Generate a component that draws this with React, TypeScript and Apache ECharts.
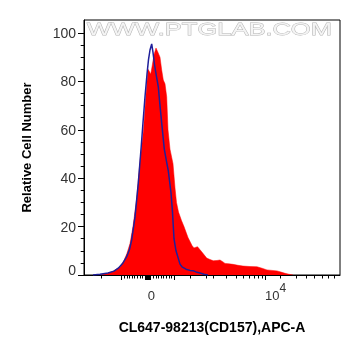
import React, { useEffect, useRef } from "react";
import * as echarts from "echarts";

// Display channel scale (logicle-like), 0..256 across the plot
const xRange = [0, 256];
const yRange = [0, 105.4];

// Stained sample (red, filled)
const redChannels = [16, 22, 29, 36, 40, 43, 46, 49, 52.5, 56, 59.5, 61.5, 63, 64, 65.5, 66.7, 68, 70, 72, 74, 76, 77.7, 79.3, 81, 82.7, 84, 86, 89, 91, 92.5, 94.5, 97.5, 100, 104, 108, 110, 113.5, 117.7, 122.7, 126, 129.3, 133, 136, 139, 141, 145, 149, 154, 159, 166, 173, 178, 183, 188, 193, 197, 201, 205, 209];
const redCounts = [0, 0.5, 1.5, 3.4, 6, 9, 13, 20, 31, 47, 60, 72, 80, 85, 84, 83, 86, 91, 93.8, 92, 90, 84.7, 80.6, 79, 73.7, 60, 52, 46, 36, 30, 26, 22.5, 20, 15.5, 12.2, 11.2, 11.7, 9.6, 7, 6.4, 5.9, 6, 6.2, 5.4, 4.8, 4.6, 4.4, 4, 3.7, 3.5, 3.4, 2.8, 2.1, 1.9, 1.7, 1.2, 0.7, 0.3, 0];

// Isotype control (blue line)
const blueChannels = [9, 16, 24, 30, 34.3, 39, 42.7, 45.5, 47.7, 51, 54.3, 57, 59, 61, 63, 64.5, 66, 67.7, 69, 70.5, 72.5, 74.3, 76, 77.7, 80.3, 82.5, 84.3, 87, 88.5, 90, 92, 96, 98, 102, 106, 109, 113, 116, 120, 124];
const blueCounts = [0, 0.3, 0.8, 1.6, 2.8, 5, 7.6, 10.5, 14.5, 24, 38, 52, 63, 73.7, 83, 89, 93, 95.5, 92, 87, 82, 77.8, 70, 62.8, 52, 47, 43, 34, 26, 15, 10, 4.5, 3.4, 2.4, 1.9, 1.8, 1.1, 0.8, 0.3, 0];

const yLabelValues = [0, 20, 40, 60, 80, 100];
const yMinorTicks = [5, 10, 15, 25, 30, 35, 45, 50, 55, 65, 70, 75, 85, 90, 95];

const xMajorTicks = [37.7, 90, 181];
const xZeroTick = [63.85];
const xMinorTicks = [17, 40.3, 42.9, 45.5, 48.1, 50.7, 53.3, 55.9, 58.5, 69.2, 71.8, 74.4, 77, 79.6, 82.2, 84.8, 87.4, 106, 122, 129, 142, 152, 159, 165, 170, 174, 178, 196, 212, 222, 230, 238, 244, 250];
const xLabelValues = [63.85, 181];
const xLabelTexts = ["{b|0}{s| }", "{b|10}{s|4}"];

const xTitle = "CL647-98213(CD157),APC-A";
const yTitle = "Relative Cell Number";
const watermark = "WWW.PTGLAB.COM";

const FONT = "'Liberation Sans', Arial, sans-serif";

export default function App() {
  const ref = useRef<HTMLDivElement>(null);
  useEffect(() => {
    if (!ref.current) return;
    const chart = echarts.init(ref.current, undefined, { renderer: "svg" });
    const redData = redChannels.map((c, i) => [c, redCounts[i]]);
    const blueData = blueChannels.map((c, i) => [c, blueCounts[i]]);
    const baseX = {
      type: "value",
      min: xRange[0],
      max: xRange[1],
      position: "bottom",
      splitLine: { show: false },
    };
    const baseY = {
      type: "value",
      min: yRange[0],
      max: yRange[1],
      position: "left",
      splitLine: { show: false },
    };
    chart.setOption({
      animation: false,
      grid: {
        left: 84,
        top: 20,
        width: 256,
        height: 255,
        show: true,
        borderColor: "#000",
        borderWidth: 1,
        backgroundColor: "#fff",
      },
      graphic: [
        {
          type: "text",
          x: 87,
          y: 21,
          scaleX: 1.5,
          z: 1,
          style: {
            text: watermark,
            fontSize: 17,
            fontFamily: FONT,
            fill: "#f4f4f4",
            stroke: "#b5b5b5",
            lineWidth: 0.8,
            verticalAlign: "top",
          },
        },
      ],
      xAxis: [
        {
          ...baseX,
          axisLine: { show: true, lineStyle: { color: "#000", width: 1 } },
          axisTick: { show: true, length: 5, customValues: xMajorTicks, lineStyle: { color: "#000", width: 1 } },
          axisLabel: {
            show: true,
            customValues: xLabelValues,
            align: "left",
            margin: 7,
            formatter: (v: number) => {
              const i = xLabelValues.findIndex((x) => Math.abs(x - v) < 0.01);
              return i >= 0 ? xLabelTexts[i] : "";
            },
            rich: {
              b: { fontSize: 13, fontFamily: FONT, color: "#333" },
              s: { fontSize: 12, fontFamily: FONT, color: "#333", padding: [0, 0, 14, 0] },
            },
          },
          name: xTitle,
          nameLocation: "middle",
          nameGap: 45,
          nameTextStyle: { fontSize: 14, fontWeight: "bold", fontFamily: FONT, color: "#000" },
        },
        {
          ...baseX,
          axisLine: { show: false },
          axisTick: { show: true, length: 3.5, customValues: xMinorTicks, lineStyle: { color: "#000", width: 1 } },
          axisLabel: { show: false },
        },
        {
          ...baseX,
          axisLine: { show: false },
          axisTick: { show: true, length: 5, customValues: xZeroTick, lineStyle: { color: "#000", width: 6 } },
          axisLabel: { show: false },
        },
      ],
      yAxis: [
        {
          ...baseY,
          axisLine: { show: true, lineStyle: { color: "#000", width: 1 } },
          axisTick: { show: true, length: 6, customValues: yLabelValues, lineStyle: { color: "#000", width: 1 } },
          axisLabel: {
            show: true,
            customValues: yLabelValues,
            margin: 8,
            fontSize: 14,
            fontFamily: FONT,
            color: "#333",
            formatter: (v: number) => (v === 0 ? "{z|0}" : String(v)),
            rich: {
              z: { fontSize: 14, fontFamily: FONT, color: "#333", padding: [0, 0, 10, 0] },
            },
          },
          name: yTitle,
          nameLocation: "middle",
          nameGap: 51,
          nameTextStyle: { fontSize: 13, fontWeight: "bold", fontFamily: FONT, color: "#000" },
        },
        {
          ...baseY,
          axisLine: { show: false },
          axisTick: { show: true, length: 3.3, customValues: yMinorTicks, lineStyle: { color: "#000", width: 1 } },
          axisLabel: { show: false },
        },
      ],
      series: [
        {
          type: "line",
          xAxisIndex: 0,
          yAxisIndex: 0,
          data: redData,
          showSymbol: false,
          symbol: "none",
          lineStyle: { width: 0.5, color: "#ff0000" },
          areaStyle: { color: "#ff0000", opacity: 1 },
          z: 2,
        },
        {
          type: "line",
          xAxisIndex: 0,
          yAxisIndex: 0,
          data: blueData,
          showSymbol: false,
          symbol: "none",
          lineStyle: { width: 1.5, color: "#1f1f9a" },
          z: 3,
        },
      ],
    });
    return () => chart.dispose();
  }, []);
  return <div ref={ref} style={{ position: "fixed", left: 0, top: 0, width: 361, height: 356 }} />;
}
